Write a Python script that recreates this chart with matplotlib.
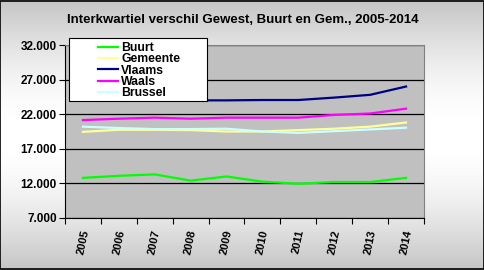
"""
Interkwartiel verschil per gewest, buurt en gemeente (2005-2014).
"""
import numpy as np
import matplotlib
matplotlib.use('Agg')
import matplotlib.pyplot as plt
from matplotlib.patches import Rectangle
from matplotlib.ticker import FuncFormatter

plt.rcParams['font.family'] = ['Liberation Sans', 'DejaVu Sans']

YEARS = ["2005", "2006", "2007", "2008", "2009", "2010", "2011", "2012", "2013", "2014"]
BUURT = [12800, 13100, 13300, 12400, 13000, 12250, 11950, 12200, 12200, 12800]
GEMEENTE = [19450, 19750, 19750, 19700, 19500, 19500, 19700, 19900, 20200, 20800]
VLAAMS = [24000, 24000, 24000, 24000, 24000, 24050, 24050, 24400, 24800, 26000]
WAALS = [21150, 21350, 21500, 21350, 21500, 21500, 21500, 21900, 22100, 22800]
BRUSSEL = [20200, 20000, 19850, 19850, 19900, 19500, 19300, 19550, 19800, 20050]

SERIES = [("Buurt", BUURT, "#00ff00"),
          ("Gemeente", GEMEENTE, "#ffff99"),
          ("Vlaams", VLAAMS, "#000080"),
          ("Waals", WAALS, "#ff00ff"),
          ("Brussel", BRUSSEL, "#ccffff")]

fig = plt.figure(figsize=(4.85, 2.7), dpi=100)

# background gradient: grey at top and bottom, white in the middle
bg = fig.add_axes([0, 0, 1, 1], zorder=-10)
t = np.linspace(0, 1, 270)
shade = 0.77 + 0.23 * np.sin(np.pi * t)
bg.imshow(np.repeat(shade[:, None], 2, axis=1), cmap='gray', vmin=0, vmax=1,
          aspect='auto', extent=[0, 1, 0, 1])
bg.set_axis_off()
fig.patches.append(Rectangle((0.001, 0.002), 0.997, 0.995, transform=fig.transFigure,
                             fill=False, edgecolor='black', linewidth=1.2))

ax = fig.add_axes([65 / 485, 1 - 218 / 270, 359 / 485, 173 / 270])
ax.set_facecolor('#c0c0c0')
x = np.arange(len(YEARS))
for name, vals, col in SERIES:
    ax.plot(x, vals, color=col, linewidth=1.6, label=name)

ax.set_xlim(-0.5, len(YEARS) - 0.5)
ax.set_ylim(7000, 32000)
ax.set_yticks(np.arange(7000, 32001, 5000))
ax.yaxis.set_major_formatter(FuncFormatter(lambda v, p: f"{int(v):,}".replace(",", ".")))
ax.grid(axis='y', color='black', linewidth=0.9)
ax.set_axisbelow(True)

ax.set_xticks(np.arange(-0.5, len(YEARS)), labels=[])
ax.set_xticks(x, labels=YEARS, minor=True)
ax.tick_params(axis='x', which='major', direction='out', length=4, color='black')
ax.tick_params(axis='x', which='minor', length=0, pad=8)
ax.tick_params(axis='y', direction='out', length=4, pad=2)
for lbl in ax.get_xticklabels(minor=True):
    lbl.set_rotation(78)
    lbl.set_fontsize(8)
    lbl.set_fontweight('bold')
    lbl.set_ha('center')
    lbl.set_va('top')
for lbl in ax.get_yticklabels():
    lbl.set_fontsize(8.5)
    lbl.set_fontweight('bold')

for side in ('top', 'right'):
    ax.spines[side].set_color('#808080')
for side in ('left', 'bottom'):
    ax.spines[side].set_color('black')

fig.text(0.5, 1 - 20 / 270, "Interkwartiel verschil Gewest, Buurt en Gem., 2005-2014",
         ha='center', va='center', fontsize=9.5, fontweight='bold')

# legend box
fig.patches.append(Rectangle((69 / 485, 1 - 101 / 270), 138.5 / 485, 62.5 / 270,
                             transform=fig.transFigure, facecolor='white',
                             edgecolor='black', linewidth=0.8, zorder=5))
leg = fig.legend(loc='upper left', bbox_to_anchor=(98 / 485, 1 - 42 / 270),
                 frameon=False, prop={'weight': 'bold', 'size': 8.8},
                 handlelength=1.65, handletextpad=0.25, labelspacing=-0.06,
                 borderpad=0, borderaxespad=0)
leg.set_zorder(6)

fig.savefig("out.png", dpi=100)
